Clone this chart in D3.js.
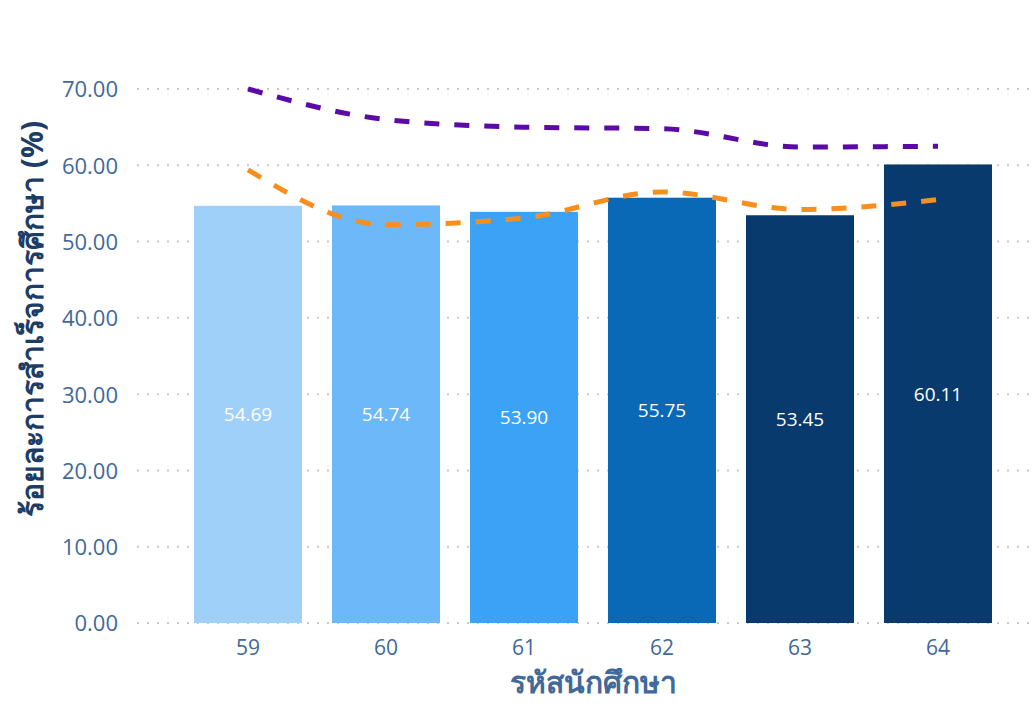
<!DOCTYPE html>
<html><head><meta charset="utf-8">
<script src="https://cdn.jsdelivr.net/npm/d3@7"></script>
<style>body{margin:0;background:#fff;}svg{display:block;} svg text{font-family:"Open Sans","Noto Sans",sans-serif !important;}</style>
</head><body>
<svg id="c" width="1032" height="707"></svg>
<script>
const categories = ["59","60","61","62","63","64"];
const barValues = [54.69,54.74,53.90,55.75,53.45,60.11];
const purpleValues = [70.0,66.0,65.0,64.8,62.4,62.5];
const orangeValues = [59.4,52.2,53.1,56.5,54.2,55.5];
const yTicks = [0,10,20,30,40,50,60,70];
const barColors = ["#9fd0f9","#6cb8f8","#3ca2f5","#0a69b7","#083a6d","#083a6d"];

const svg = d3.select("#c");
const x = d3.scaleBand().domain(categories).range([179,1007]).paddingInner(0.2174).paddingOuter(0.1087);
const y = d3.scaleLinear().domain([0,70]).range([623,89]);

// grid
svg.append("g").selectAll("line").data(yTicks).join("line")
  .attr("x1",137).attr("x2",1032).attr("y1",d=>y(d)).attr("y2",d=>y(d))
  .attr("stroke","#c8c8c8").attr("stroke-width",2).attr("stroke-dasharray","2,8");

// y ticks
const yAxis = d3.axisLeft(y).tickValues(yTicks).tickFormat(d3.format(".2f")).tickSize(0).tickPadding(0);
const ya = svg.append("g").attr("transform","translate(118,0)").call(yAxis);
ya.select(".domain").remove();
ya.attr("font-family",null);
ya.selectAll("text").attr("fill","#41699a").style("font-size","22px").attr("dy","0.36em");

// x ticks
const xAxis = d3.axisBottom(x).tickSize(0).tickPadding(0);
const xa = svg.append("g").attr("transform","translate(0,655)").call(xAxis);
xa.select(".domain").remove();
xa.attr("font-family",null);
xa.selectAll("text").attr("fill","#41699a").style("font-size","21px").attr("y",0).attr("dy","0");

// bars
svg.append("g").selectAll("rect").data(barValues).join("rect")
  .attr("x",(d,i)=>x(categories[i])).attr("width",x.bandwidth())
  .attr("y",d=>y(d)).attr("height",d=>y(0)-y(d))
  .attr("fill",(d,i)=>barColors[i]);

// bar labels
svg.append("g").selectAll("text").data(barValues).join("text")
  .attr("x",(d,i)=>x(categories[i])+x.bandwidth()/2)
  .attr("y",d=>(y(d)+y(0))/2).attr("dy","0.36em")
  .attr("text-anchor","middle").attr("fill","#fff").style("font-size","19px")
  .text(d=>d3.format(".2f")(d));

// lines
const line = d3.line().x((d,i)=>x(categories[i])+x.bandwidth()/2).y(d=>y(d)).curve(d3.curveMonotoneX);
svg.append("path").datum(purpleValues).attr("d",line).attr("fill","none")
  .attr("stroke","#5b0aa6").attr("stroke-width",5).attr("stroke-dasharray","15,15");
svg.append("path").datum(orangeValues).attr("d",line).attr("fill","none")
  .attr("stroke","#f78f1e").attr("stroke-width",5).attr("stroke-dasharray","15,15");

// axis titles
svg.append("text").attr("transform","translate(43,319) rotate(-90)")
  .attr("text-anchor","middle").attr("fill","#1b3d66").style("font-size","30px").style("font-weight","bold")
  .text("ร้อยละการสำเร็จการศึกษา (%)");
svg.append("text").attr("x",593).attr("y",693)
  .attr("text-anchor","middle").attr("fill","#41699a").style("font-size","30px").style("font-weight","bold")
  .text("รหัสนักศึกษา");
</script>
</body></html>
